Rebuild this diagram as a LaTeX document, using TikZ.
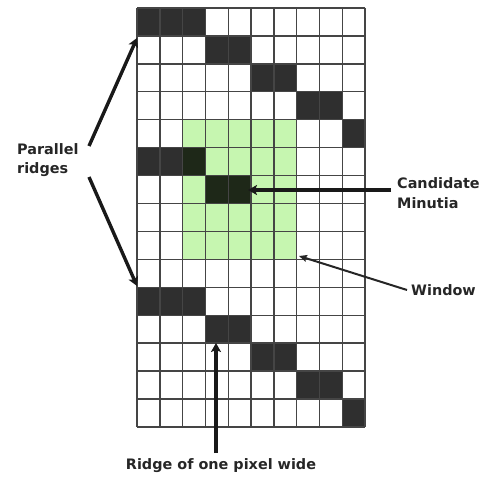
\documentclass[tikz,border=0pt]{standalone}
\usepackage{fontspec}
\setmainfont{DejaVu Sans}
\usetikzlibrary{arrows.meta}
\definecolor{ridgedark}{HTML}{2F2F2F}
\definecolor{ridgegreen}{HTML}{1E2818}
\definecolor{winfill}{HTML}{C6F6B0}
\definecolor{gridcol}{HTML}{454545}
\newcommand\gcell[3]{\fill[#1] ({137+(#2-1)*22.8},{8+(#3-1)*27.93}) rectangle ++(22.8,27.93);}
\tikzset{
  lbl/.style={font=\bfseries\fontsize{14.4}{19.5}\selectfont, text=black!85, inner sep=0pt, align=left},
  gridline/.style={draw=gridcol, line width=1.4pt},
  bigarrow/.style={draw=black!90, line width=3.4pt, -{Stealth[length=9pt,width=10pt,inset=2pt]}},
  thinarrow/.style={draw=black!85, line width=2pt, -{Stealth[length=8pt,width=7pt,inset=1.5pt]}}
}
\begin{document}
\begin{tikzpicture}[x=1pt,y=-1pt]
\useasboundingbox[fill=white] (0,0) rectangle (486,478);
% window
\fill[winfill] ({137+2*22.8},{8+4*27.93}) rectangle ++({5*22.8},{5*27.93});
% ridge pixels
\foreach \c/\r in {1/1,2/1,3/1,4/2,5/2,6/3,7/3,8/4,9/4,10/5,1/6,2/6,1/11,2/11,3/11,4/12,5/12,6/13,7/13,8/14,9/14,10/15}
  {\gcell{ridgedark}{\c}{\r}}
\foreach \c/\r in {3/6,4/7,5/7}
  {\gcell{ridgegreen}{\c}{\r}}
% grid
\foreach \i in {0,...,10} {\draw[gridline] ({137+\i*22.8},8) -- ({137+\i*22.8},427);}
\foreach \j in {0,...,15} {\draw[gridline] (137,{8+\j*27.93}) -- (365,{8+\j*27.93});}
% labels
\node[lbl, anchor=west] (par) at (17,160) {Parallel\\ridges};
\node[lbl, anchor=west] (cand) at (397,193) {Candidate\\Minutia};
\node[lbl, anchor=west] (win) at (411,290) {Window};
\node[lbl, anchor=center] (ridge) at (221,466) {Ridge of one pixel wide};
% arrow end points
\coordinate (parA) at (89,146);
\coordinate (parB) at (89,177);
\coordinate (tipTop) at (137,38);
\coordinate (tipBot) at (137,286);
\coordinate (candA) at (391,190);
\coordinate (tipCand) at (248,190);
\coordinate (winA) at (407,290);
\coordinate (tipWin) at (299,256);
\coordinate (ridgeA) at (216,453);
\coordinate (tipRidge) at (216,343);
\draw[bigarrow] (parA) -- (tipTop);
\draw[bigarrow] (parB) -- (tipBot);
\draw[bigarrow, line width=4pt] (candA) -- (tipCand);
\draw[thinarrow] (winA) -- (tipWin);
\draw[bigarrow] (ridgeA) -- (tipRidge);
\end{tikzpicture}
\end{document}
